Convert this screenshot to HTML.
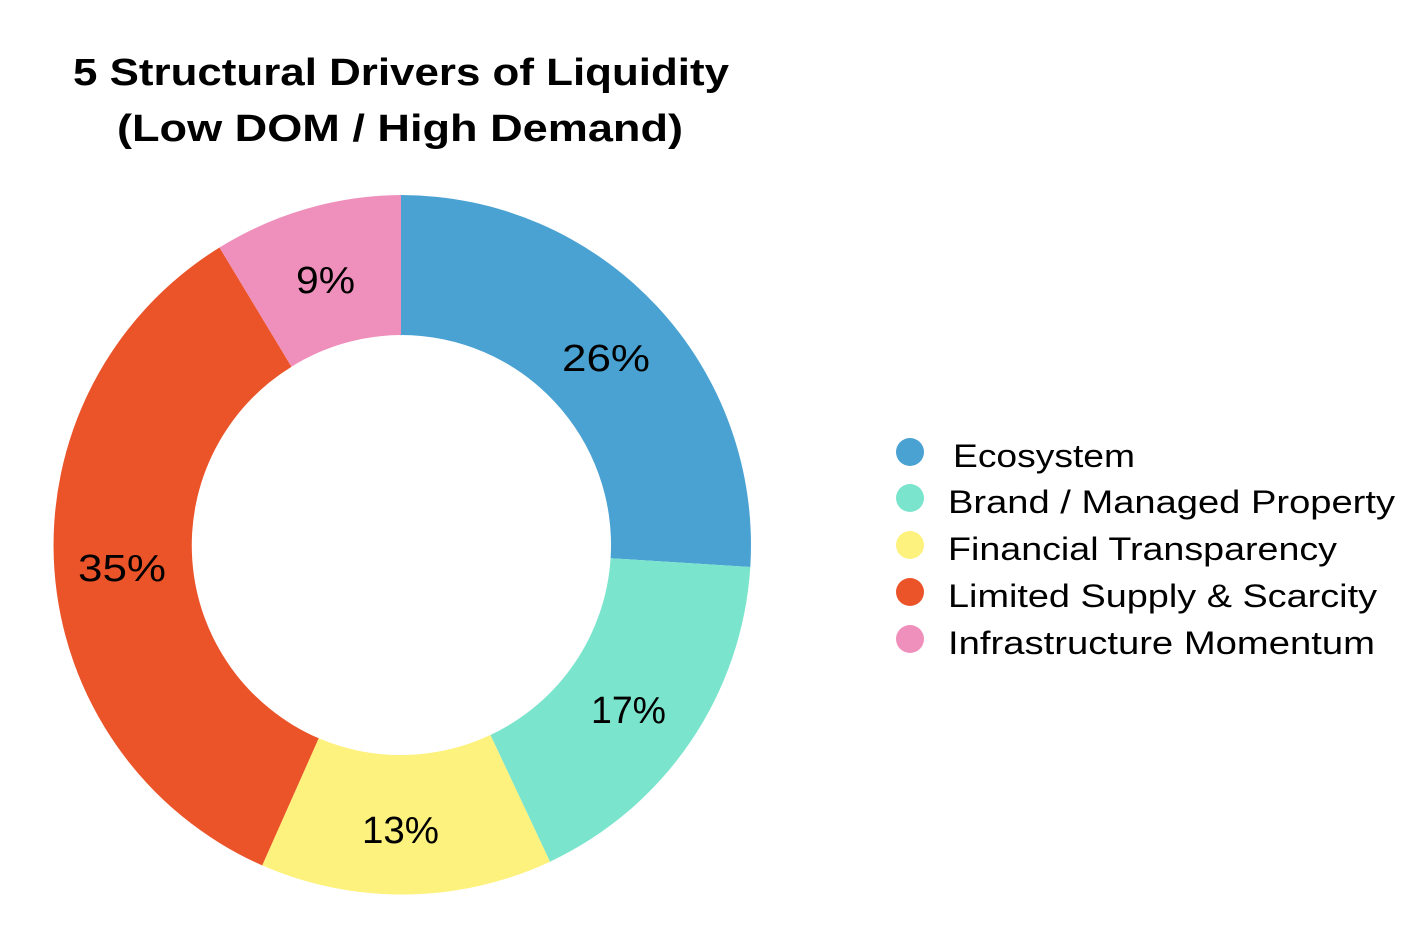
<!DOCTYPE html>
<html><head><style>
body{margin:0;background:#fff;}
svg{display:block;font-family:"Liberation Sans",sans-serif;}
</style></head><body>
<svg width="1422" height="942" viewBox="0 0 1422 942">
<rect width="1422" height="942" fill="#fff"/>
<text x="73" y="85" font-size="38" font-weight="bold" textLength="656" lengthAdjust="spacingAndGlyphs">5 Structural Drivers of Liquidity</text>
<text x="117" y="141" font-size="38" font-weight="bold" textLength="566" lengthAdjust="spacingAndGlyphs">(Low DOM / High Demand)</text>
<path d="M401,195 A350,350 0 0 1 750.3,567 L610.6,558.2 A210,210 0 0 0 401,335 Z" fill="#4AA2D3"/>
<path d="M750.3,567 A350,350 0 0 1 550,861.7 L490.4,735 A210,210 0 0 0 610.6,558.2 Z" fill="#7AE4CD"/>
<path d="M550,861.7 A350,350 0 0 1 262.2,865.4 L318.7,738.3 A210,210 0 0 0 490.4,735 Z" fill="#FDF27D"/>
<path d="M262.2,865.4 A350,350 0 0 1 219.5,247.5 L291.5,366.7 A210,210 0 0 0 318.7,738.3 Z" fill="#EB5329"/>
<path d="M219.5,247.5 A350,350 0 0 1 401,195 L401,335 A210,210 0 0 0 291.5,366.7 Z" fill="#EF8FBB"/>
<g font-size="38" lengthAdjust="spacingAndGlyphs">
<text x="562" y="371" textLength="88" lengthAdjust="spacingAndGlyphs">26%</text>
<text x="591" y="723" textLength="75" lengthAdjust="spacingAndGlyphs">17%</text>
<text x="362" y="843" textLength="77" lengthAdjust="spacingAndGlyphs">13%</text>
<text x="78" y="581" textLength="88" lengthAdjust="spacingAndGlyphs">35%</text>
<text x="296" y="293" textLength="59" lengthAdjust="spacingAndGlyphs">9%</text>
</g>
<g font-size="32">
<circle cx="910" cy="452" r="14" fill="#4AA2D3"/><text x="953" y="467" textLength="182" lengthAdjust="spacingAndGlyphs">Ecosystem</text>
<circle cx="910" cy="498" r="14" fill="#7AE4CD"/><text x="948" y="513" textLength="447" lengthAdjust="spacingAndGlyphs">Brand / Managed Property</text>
<circle cx="910" cy="545" r="14" fill="#FDF27D"/><text x="948" y="560" textLength="389" lengthAdjust="spacingAndGlyphs">Financial Transparency</text>
<circle cx="910" cy="592" r="14" fill="#EB5329"/><text x="948" y="607" textLength="429" lengthAdjust="spacingAndGlyphs">Limited Supply &amp; Scarcity</text>
<circle cx="910" cy="639" r="14" fill="#EF8FBB"/><text x="948" y="654" textLength="427" lengthAdjust="spacingAndGlyphs">Infrastructure Momentum</text>
</g>
</svg>
</body></html>
